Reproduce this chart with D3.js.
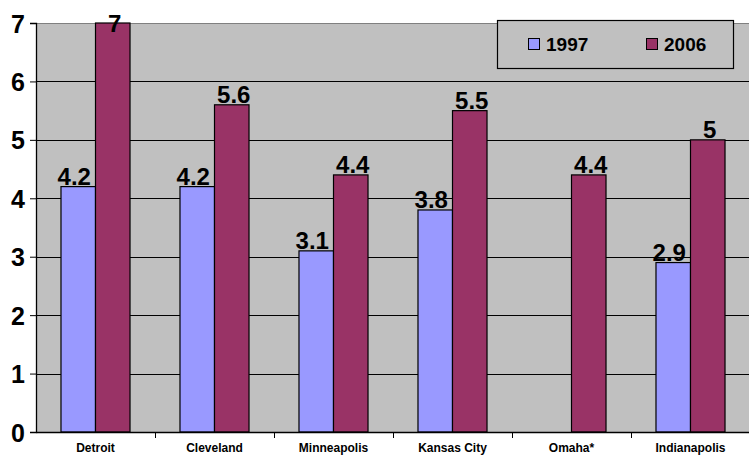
<!DOCTYPE html>
<meta charset="utf-8">
<script src="https://d3js.org/d3.v7.min.js"></script>
<body style="margin:0;background:#fff">
<svg width="749" height="455"></svg>
<script>
var cities = ['Detroit', 'Cleveland', 'Minneapolis', 'Kansas City', 'Omaha*', 'Indianapolis'];
var years = ['1997', '2006'];
var v1997 = [4.2, 4.2, 3.1, 3.8, null, 2.9];
var v2006 = [7, 5.6, 4.4, 5.5, 4.4, 5];
var yTicks = [0, 1, 2, 3, 4, 5, 6, 7];
var colors = {'1997': '#9999FF', '2006': '#993366'};
var labelShift = {'1997': -4, '2006': 2};

var svg = d3.select('svg');
var pl = 36, pr = 750, pt = 23, pb = 432;

var x0 = d3.scaleBand().domain(cities).range([pl, pr]);
var gap = x0.bandwidth() * 0.21;
var x1 = d3.scaleBand().domain(years).range([gap, x0.bandwidth() - gap]);
var y = d3.scaleLinear().domain([0, 7]).range([pb, pt]);

var rows = cities.map(function (c, i) {
    return {city: c, vals: [{year: '1997', v: v1997[i]}, {year: '2006', v: v2006[i]}]};
});

// plot area
svg.append('rect').attr('x', pl).attr('y', pt).attr('width', pr - pl).attr('height', pb - pt)
    .attr('fill', '#C0C0C0');
svg.append('line').attr('x1', pl).attr('x2', pr).attr('y1', pt + 0.5).attr('y2', pt + 0.5)
    .attr('stroke', '#808080');

// grid
svg.selectAll('.grid').data(yTicks.filter(function (t) { return t > 0 && t < 7; }))
    .enter().append('line')
    .attr('x1', pl).attr('x2', pr)
    .attr('y1', function (d) { return Math.round(y(d)) + 0.5; })
    .attr('y2', function (d) { return Math.round(y(d)) + 0.5; })
    .attr('stroke', '#000');

// bars
var g = svg.selectAll('.grp').data(rows).enter().append('g')
    .attr('transform', function (d) { return 'translate(' + x0(d.city) + ',0)'; });

g.selectAll('rect').data(function (d) { return d.vals.filter(function (e) { return e.v != null; }); })
    .enter().append('rect')
    .attr('x', function (d) { return x1(d.year); })
    .attr('y', function (d) { return y(d.v); })
    .attr('width', x1.bandwidth())
    .attr('height', function (d) { return pb - y(d.v); })
    .attr('fill', function (d) { return colors[d.year]; })
    .attr('stroke', '#000').attr('stroke-width', 1.2);

g.selectAll('text').data(function (d) { return d.vals.filter(function (e) { return e.v != null; }); })
    .enter().append('text')
    .attr('x', function (d) { return x1(d.year) + x1.bandwidth() / 2 + labelShift[d.year]; })
    .attr('y', function (d) { return Math.max(y(d.v) - 2, 32); })
    .attr('text-anchor', 'middle')
    .style('font', 'bold 24px "Liberation Sans", Arial, sans-serif')
    .text(function (d) { return d.v; });

// axes
var ya = svg.append('g').attr('transform', 'translate(' + pl + ',0)')
    .call(d3.axisLeft(y).tickValues(yTicks).tickSize(6).tickFormat(d3.format('d')));
ya.select('.domain').attr('stroke', '#000').attr('stroke-width', 1.3);
ya.selectAll('text').style('font', 'bold 25px "Liberation Sans", Arial, sans-serif').attr('dy', '0.36em').attr('x', -11);

var xa = svg.append('g').attr('transform', 'translate(0,' + pb + ')')
    .call(d3.axisBottom(x0).tickSize(0));
xa.select('.domain').attr('stroke', '#000').attr('stroke-width', 1.3);
xa.selectAll('text').attr('y', 20).attr('dy', 0)
    .style('font', 'bold 12px "Liberation Sans", Arial, sans-serif').attr('fill', '#000');
svg.append('g').selectAll('line').data(cities.slice(1)).enter().append('line')
    .attr('x1', function (d) { return x0(d) + 0.5; }).attr('x2', function (d) { return x0(d) + 0.5; })
    .attr('y1', pb).attr('y2', pb + 6).attr('stroke', '#000');

// legend
var lg = svg.append('g');
lg.append('rect').attr('x', 497.5).attr('y', 20.5).attr('width', 236).attr('height', 48)
    .attr('fill', '#C0C0C0').attr('stroke', '#000').attr('stroke-width', 1.2);
var items = lg.selectAll('.li').data(years).enter().append('g')
    .attr('transform', function (d, i) { return 'translate(' + (528 + i * 118) + ',38)'; });
items.append('rect').attr('x', 0.5).attr('y', 0.5).attr('width', 11).attr('height', 11)
    .attr('fill', function (d) { return colors[d]; }).attr('stroke', '#000');
items.append('text').attr('x', 18).attr('y', 13)
    .style('font', 'bold 19px "Liberation Sans", Arial, sans-serif')
    .text(function (d) { return d; });
</script>
</body>
